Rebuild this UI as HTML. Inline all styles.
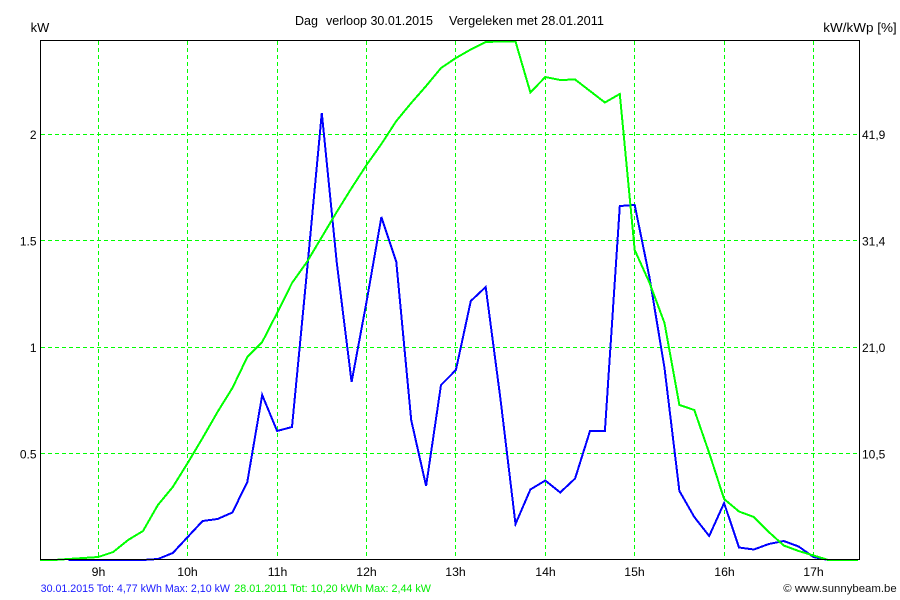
<!DOCTYPE html>
<html>
<head>
<meta charset="utf-8">
<style>
  html,body{margin:0;padding:0;background:#fff;}
  svg{display:block;}
  text{font-family:"Liberation Sans",Arial,sans-serif;fill:#000;}
</style>
</head>
<body>
<svg width="900" height="600" viewBox="0 0 900 600" xmlns="http://www.w3.org/2000/svg">
  <rect x="0" y="0" width="900" height="600" fill="#fff"/>

  <!-- Title -->
  <text x="295" y="25" font-size="12.6" textLength="23" lengthAdjust="spacingAndGlyphs">Dag</text>
  <text x="326" y="25" font-size="12.6" textLength="107" lengthAdjust="spacingAndGlyphs">verloop 30.01.2015</text>
  <text x="449" y="25" font-size="12.6" textLength="155" lengthAdjust="spacingAndGlyphs">Vergeleken met 28.01.2011</text>

  <!-- Axis unit labels -->
  <text x="30.7" y="32" font-size="12.6" textLength="18.6" lengthAdjust="spacingAndGlyphs">kW</text>
  <text x="823.3" y="32" font-size="12.6" textLength="73.4" lengthAdjust="spacingAndGlyphs">kW/kWp [%]</text>

  <!-- Grid -->
  <g stroke="#00ff00" stroke-width="1" stroke-dasharray="4,3" shape-rendering="crispEdges" fill="none">
    <line x1="98.5" y1="41" x2="98.5" y2="559"/>
    <line x1="187.5" y1="41" x2="187.5" y2="559"/>
    <line x1="277.5" y1="41" x2="277.5" y2="559"/>
    <line x1="366.5" y1="41" x2="366.5" y2="559"/>
    <line x1="455.5" y1="41" x2="455.5" y2="559"/>
    <line x1="545.5" y1="41" x2="545.5" y2="559"/>
    <line x1="634.5" y1="41" x2="634.5" y2="559"/>
    <line x1="724.5" y1="41" x2="724.5" y2="559"/>
    <line x1="813.5" y1="41" x2="813.5" y2="559"/>

    <line x1="41" y1="134.5" x2="859" y2="134.5"/>
    <line x1="41" y1="240.5" x2="859" y2="240.5"/>
    <line x1="41" y1="347.5" x2="859" y2="347.5"/>
    <line x1="41" y1="453.5" x2="859" y2="453.5"/>
  </g>

  <!-- Blue series (30.01.2015) -->
  <polyline fill="none" stroke="#0000ff" stroke-width="2" stroke-linejoin="miter" shape-rendering="crispEdges"
    points="68.5,560 83.4,560 98.3,560 113.2,560 128.1,560 143,560 157.9,559 172.8,553 187.7,537 202.6,521 217.5,519 232.4,512.5 247.3,482 262.2,395 277.1,431 292,427 306.9,272 321.8,113 336.7,262 351.6,382 366.5,302 381.4,217 396.3,262 411.2,420 426.1,486 441,385 455.9,370 470.8,301 485.7,287 500.6,400 515.5,524 530.4,489.5 545.3,480.5 560.2,492.5 575.1,478.5 590,431 604.9,431 619.8,206 634.7,205 649.6,278 664.5,368 679.4,491 694.3,517 709.2,536 724.1,503 739,547.5 753.9,549.5 768.8,544 783.7,541 798.6,546.5 813.5,557 828.4,560"/>

  <!-- Green series (28.01.2011) -->
  <polyline fill="none" stroke="#00ff00" stroke-width="2" stroke-linejoin="miter" shape-rendering="crispEdges"
    points="40,560 53.6,560 68.5,559 83.4,558 98.3,557 113.2,552 128.1,540 143,531 157.9,505 172.8,487 187.7,463 202.6,438 217.5,412 232.4,388 247.3,357 262.2,342 277.1,313 292,283 306.9,262 321.8,237 336.7,212 351.6,188 366.5,165 381.4,144 396.3,121 411.2,103 426.1,86 441,68 455.9,58 470.8,49.5 485.7,42 500.6,41.5 515.5,41.5 530.4,92.5 545.3,77 560.2,80 575.1,79.5 590,91 604.9,102.5 619.8,94 634.7,250 649.6,283 664.5,323 679.4,405 694.3,410 709.2,453 724.1,499 739,511.5 753.9,517 768.8,532 783.7,545.5 798.6,551 813.5,555.5 828.4,560 843.3,560 858.2,560"/>

  <!-- Plot border -->
  <rect x="40.5" y="40.5" width="819" height="519" fill="none" stroke="#000" stroke-width="1" shape-rendering="crispEdges"/>

  <!-- Left axis labels -->
  <g font-size="12" text-anchor="end">
    <text x="36.5" y="139">2</text>
    <text x="36.5" y="245.5">1.5</text>
    <text x="36.5" y="352">1</text>
    <text x="36.5" y="458.5">0.5</text>
  </g>

  <!-- Right axis labels -->
  <g font-size="12">
    <text x="862" y="139">41,9</text>
    <text x="862" y="245.5">31,4</text>
    <text x="862" y="352">21,0</text>
    <text x="862" y="458.5">10,5</text>
  </g>

  <!-- Bottom axis labels -->
  <g font-size="12.3" text-anchor="middle">
    <text x="98.5" y="576">9h</text>
    <text x="187.5" y="576">10h</text>
    <text x="277.5" y="576">11h</text>
    <text x="366.5" y="576">12h</text>
    <text x="455.5" y="576">13h</text>
    <text x="545.5" y="576">14h</text>
    <text x="634.5" y="576">15h</text>
    <text x="724.5" y="576">16h</text>
    <text x="813.5" y="576">17h</text>
  </g>

  <!-- Legend -->
  <text x="40.7" y="592" font-size="10.6" textLength="189.3" lengthAdjust="spacingAndGlyphs" style="fill:#1a1aff">30.01.2015 Tot: 4,77 kWh Max: 2,10 kW</text>
  <text x="234.3" y="592" font-size="10.6" textLength="196.7" lengthAdjust="spacingAndGlyphs" style="fill:#00ee00">28.01.2011 Tot: 10,20 kWh Max: 2,44 kW</text>
  <text x="783.3" y="592" font-size="10.8" textLength="113.4" lengthAdjust="spacingAndGlyphs" style="fill:#111">© www.sunnybeam.be</text>
</svg>
</body>
</html>
